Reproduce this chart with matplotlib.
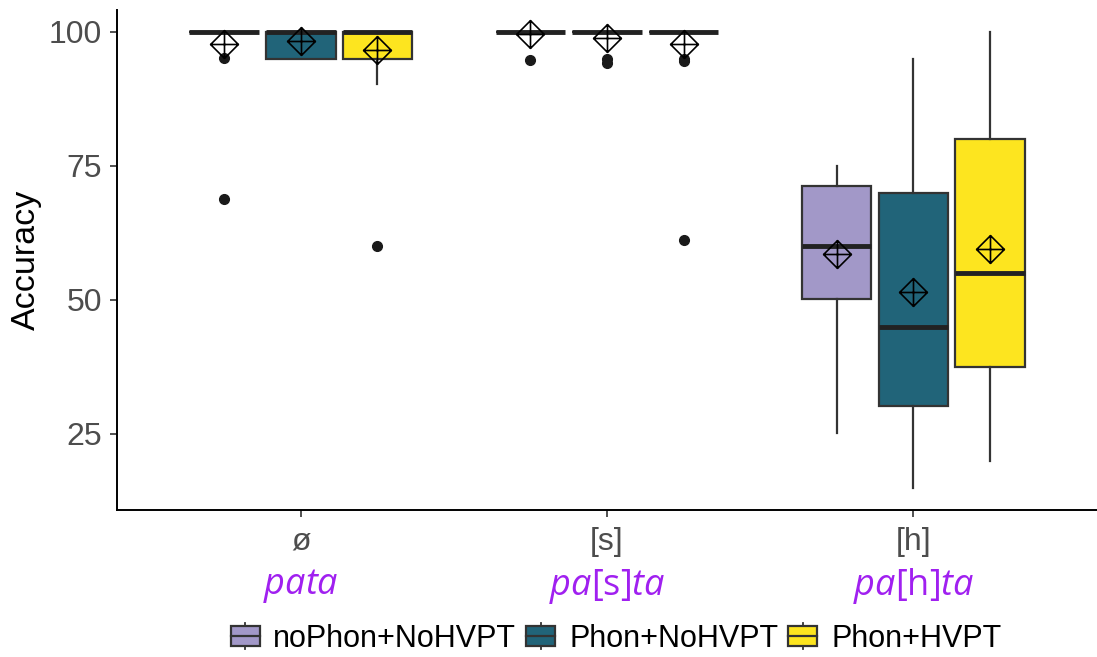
import numpy as np
import matplotlib
matplotlib.use("Agg")
import matplotlib.pyplot as plt
from matplotlib.path import Path
from matplotlib.patches import Rectangle
from matplotlib.lines import Line2D
from matplotlib.legend_handler import HandlerBase
import matplotlib.transforms as mtransforms

plt.rcParams['font.family'] = ['Liberation Sans', 'DejaVu Sans']
plt.rcParams['mathtext.fontset'] = 'custom'
plt.rcParams['mathtext.rm'] = 'Open Sans'
plt.rcParams['mathtext.it'] = 'Open Sans:italic'

# Groupes (axe x) et conditions (boîtes)
groups = ["ø", "[s]", "[h]"]
words = [r"$\mathit{pata}$", r"$\mathit{pa}\mathrm{[s]}\mathit{ta}$", r"$\mathit{pa}\mathrm{[h]}\mathit{ta}$"]
conditions = ["noPhon+NoHVPT", "Phon+NoHVPT", "Phon+HVPT"]
colors = ["#A298C8", "#216479", "#FDE51F"]

# Statistiques par condition, une valeur par groupe
medians = [[100, 100, 60], [100, 100, 45], [100, 100, 55]]
q1 = [[100, 100, 50.2], [95, 100, 30.2], [95, 100, 37.5]]
q3 = [[100, 100, 71.3], [100, 100, 70], [100, 100, 80]]
whislo = [[100, 100, 25.2], [95, 100, 15], [90.3, 100, 20]]
whishi = [[100, 100, 75], [100, 100, 95], [100, 100, 100]]
means = [[97.8, 99.6, 58.6], [98.3, 98.9, 51.5], [96.6, 97.8, 59.5]]
fliers = [[[95.1, 68.8], [94.8], []],
          [[], [94.9, 94.1], []],
          [[60.1], [94.9, 94.5, 61.2], []]]

# Marqueur de moyenne : losange avec croix
verts = [(0, 1), (1, 0), (0, -1), (-1, 0), (0, 1),
         (-1, 0), (1, 0), (0, -1), (0, 1)]
codes = [Path.MOVETO, Path.LINETO, Path.LINETO, Path.LINETO, Path.CLOSEPOLY,
         Path.MOVETO, Path.LINETO, Path.MOVETO, Path.LINETO]
diamond_plus = Path(verts, codes)

edge = "#333333"
fig = plt.figure(figsize=(10.97, 6.57), dpi=100)
ax = fig.add_axes([0.1067, 0.2237, 0.8933, 0.7613])

offsets = [-0.25, 0.0, 0.25]
for i, cond in enumerate(conditions):
    stats = []
    for g in range(len(groups)):
        stats.append(dict(med=medians[i][g], q1=q1[i][g], q3=q3[i][g],
                          whislo=whislo[i][g], whishi=whishi[i][g],
                          mean=means[i][g], fliers=np.array(fliers[i][g])))
    pos = [g + 1 + offsets[i] for g in range(len(groups))]
    ax.bxp(stats, positions=pos, widths=0.227, patch_artist=True,
           showmeans=True, showcaps=False, manage_ticks=False,
           boxprops=dict(facecolor=colors[i], edgecolor=edge, linewidth=1.6),
           medianprops=dict(color="#222222", linewidth=3.5, solid_capstyle='butt'),
           whiskerprops=dict(color=edge, linewidth=1.6),
           flierprops=dict(marker='o', markerfacecolor='#1a1a1a',
                           markeredgecolor='#1a1a1a', markersize=7),
           meanprops=dict(marker=diamond_plus, markersize=20,
                          markerfacecolor='none', markeredgecolor='black',
                          markeredgewidth=1.2))

ax.set_xlim(0.4, 3.6)
ax.set_ylim(10.8, 104.1)
ax.set_xticks([1, 2, 3])
ax.set_xticklabels(groups)
ax.set_yticks([25, 50, 75, 100])
ax.tick_params(axis='both', labelsize=23, labelcolor='#4D4D4D', color='#333333',
               length=5, width=1.2)
ax.tick_params(axis='x', pad=7)
ax.tick_params(axis='y', pad=6)
ax.set_ylabel("Accuracy", fontsize=24.5, color='black', labelpad=5)
for s in ['top', 'right']:
    ax.spines[s].set_visible(False)
for s in ['left', 'bottom']:
    ax.spines[s].set_linewidth(1.4)
    ax.spines[s].set_color('black')

# Mots cibles sous les étiquettes
trans = mtransforms.blended_transform_factory(ax.transData, ax.transAxes)
for g, w in enumerate(words):
    ax.text(g + 1, -0.152, w, transform=trans, ha='center', va='center',
            fontsize=26, color='#A020F0')


class BoxKey(HandlerBase):
    def create_artists(self, legend, orig_handle, xdescent, ydescent,
                       width, height, fontsize, trans):
        fc = orig_handle.get_facecolor()
        x0, y0 = -xdescent, -ydescent
        box = Rectangle((x0, y0 + 0.11 * height), width, 0.78 * height,
                        facecolor=fc, edgecolor=edge, linewidth=1.6, transform=trans)
        mid = Line2D([x0, x0 + width], [y0 + 0.5 * height] * 2,
                     color=edge, linewidth=1.6, transform=trans)
        top = Line2D([x0 + width / 2] * 2, [y0 + 0.89 * height, y0 + 1.02 * height],
                     color=edge, linewidth=1.3, transform=trans)
        bot = Line2D([x0 + width / 2] * 2, [y0 - 0.02 * height, y0 + 0.11 * height],
                     color=edge, linewidth=1.3, transform=trans)
        return [box, mid, top, bot]


handles = [Rectangle((0, 0), 1, 1, facecolor=c) for c in colors]
fig.legend(handles, conditions, handler_map={Rectangle: BoxKey()},
           loc='center', bbox_to_anchor=(0.5615, 0.028), ncol=3, frameon=False,
           fontsize=22, handlelength=0.95, handleheight=0.9, handletextpad=0.45,
           columnspacing=0.33)

fig.savefig("out.png", dpi=100)
